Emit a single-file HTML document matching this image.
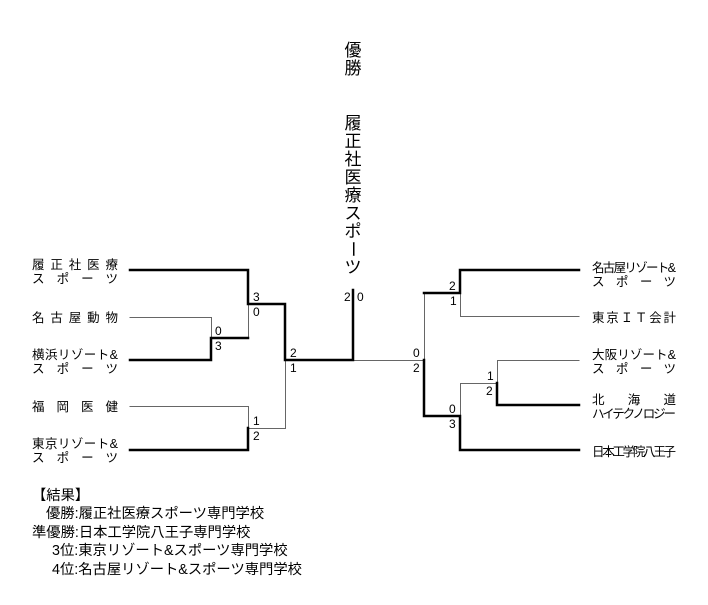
<!DOCTYPE html>
<html><head><meta charset="utf-8"><style>
body{margin:0;background:#fff;}
svg text{font-family:"Liberation Sans","Noto Sans CJK JP",sans-serif;fill:#000;}
</style></head><body>
<svg width="708" height="600" viewBox="0 0 708 600" xmlns="http://www.w3.org/2000/svg">
<g fill="none" stroke="#000" stroke-linecap="square">
<g stroke-width="1" stroke="#666">
<path d="M130 317.5H211.5V338"/>
<path d="M248.5 304V338"/>
<path d="M130 406.5H248.5V428"/>
<path d="M248.5 428.5H285.5V360"/>
<path d="M353 360.5H424.5V293"/>
<path d="M460.5 293V316.5H579"/>
<path d="M424.5 360V416"/>
<path d="M460.5 416V383.5H497.5V360.5H579"/>
</g>
<g stroke-width="2.5">
<path d="M130 270H248V304H285V360H353V290"/>
<path d="M130 360H211V338H248"/>
<path d="M130 450H248V428"/>
<path d="M579 270H460V293H424"/>
<path d="M424 360V416H460V450H579"/>
<path d="M497 383V405H579"/>
</g>
</g>
<g font-size="12">
<text x="253" y="301">3</text><text x="253" y="316">0</text>
<text x="215" y="335">0</text><text x="215" y="350">3</text>
<text x="290" y="357">2</text><text x="290" y="372">1</text>
<text x="253" y="425">1</text><text x="253" y="440">2</text>
<text x="344" y="301">2</text><text x="357" y="301">0</text>
<text x="449" y="290">2</text><text x="450" y="305">1</text>
<text x="413" y="357">0</text><text x="413" y="372">2</text>
<text x="487" y="380">1</text><text x="486" y="395">2</text>
<text x="449" y="413">0</text><text x="449" y="428">3</text>
</g>
<g font-size="12.5">
<text x="32" y="269" textLength="86" lengthAdjust="spacing">履正社医療</text>
<text x="32" y="283" textLength="86" lengthAdjust="spacing">スポーツ</text>
<text x="32" y="322" textLength="86" lengthAdjust="spacing">名古屋動物</text>
<text x="32" y="359" textLength="86" lengthAdjust="spacing">横浜リゾート&amp;</text>
<text x="32" y="373" textLength="86" lengthAdjust="spacing">スポーツ</text>
<text x="32" y="411" textLength="86" lengthAdjust="spacing">福岡医健</text>
<text x="32" y="448" textLength="86" lengthAdjust="spacing">東京リゾート&amp;</text>
<text x="32" y="462" textLength="86" lengthAdjust="spacing">スポーツ</text>
<text x="592" y="272" textLength="84" lengthAdjust="spacing">名古屋リゾート&amp;</text>
<text x="592" y="286" textLength="84" lengthAdjust="spacing">スポーツ</text>
<text x="592" y="322" textLength="84" lengthAdjust="spacing">東京ＩＴ会計</text>
<text x="592" y="359" textLength="84" lengthAdjust="spacing">大阪リゾート&amp;</text>
<text x="592" y="373" textLength="84" lengthAdjust="spacing">スポーツ</text>
<text x="592" y="404" textLength="84" lengthAdjust="spacing">北海道</text>
<text x="592" y="418" textLength="84" lengthAdjust="spacing">ハイテクノロジー</text>
<text x="592" y="456" textLength="84" lengthAdjust="spacing">日本工学院八王子</text>
</g>
<g font-size="17" text-anchor="middle">
<text x="353" y="56">優</text><text x="353" y="74">勝</text>
<text x="353" y="129">履</text><text x="353" y="147">正</text><text x="353" y="165">社</text>
<text x="353" y="183">医</text><text x="353" y="201">療</text><text x="353" y="219">ス</text>
<text x="353" y="237">ポ</text><text x="353" y="255" transform="rotate(90 353 249)">ー</text><text x="353" y="273">ツ</text>
</g>
<g font-size="14.3">
<text x="32" y="500">【結果】</text>
<text x="46" y="518">優勝:履正社医療スポーツ専門学校</text>
<text x="32" y="537">準優勝:日本工学院八王子専門学校</text>
<text x="52" y="555">3位:東京リゾート&amp;スポーツ専門学校</text>
<text x="52" y="574">4位:名古屋リゾート&amp;スポーツ専門学校</text>
</g>
</svg>
</body></html>
